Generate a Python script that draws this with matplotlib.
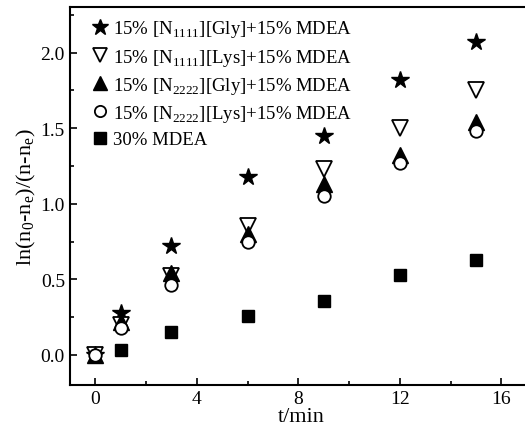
import numpy as np
import matplotlib.pyplot as plt
from matplotlib.ticker import MultipleLocator

plt.rcParams['font.family'] = ['Liberation Serif', 'DejaVu Serif']
plt.rcParams['mathtext.fontset'] = 'custom'
plt.rcParams['mathtext.rm'] = 'Liberation Serif'

t = [0, 1, 3, 6, 9, 12, 15]
n1111_gly = [0, 0.28, 0.72, 1.18, 1.45, 1.82, 2.07]
n1111_lys = [0, 0.20, 0.52, 0.85, 1.23, 1.50, 1.75]
n2222_gly = [0, 0.22, 0.54, 0.80, 1.13, 1.32, 1.54]
n2222_lys = [0, 0.18, 0.46, 0.75, 1.05, 1.27, 1.48]
t_mdea = [1, 3, 6, 9, 12, 15]
mdea = [0.03, 0.15, 0.26, 0.36, 0.53, 0.63]

labels = [r"15% [N$_{\rm 1111}$][Gly]+15% MDEA",
          r"15% [N$_{\rm 1111}$][Lys]+15% MDEA",
          r"15% [N$_{\rm 2222}$][Gly]+15% MDEA",
          r"15% [N$_{\rm 2222}$][Lys]+15% MDEA",
          "30% MDEA"]

fig = plt.figure(figsize=(5.25, 4.31), dpi=100)
ax = fig.add_axes([0.133, 0.104, 0.88, 0.877])

ax.plot(t, n1111_gly, ls='none', marker='*', ms=13, color='k', label=labels[0])
ax.plot(t, n1111_lys, ls='none', marker='v', ms=11, mfc='white', mec='k', mew=1.3, label=labels[1])
ax.plot(t, n2222_gly, ls='none', marker='^', ms=11, color='k', label=labels[2])
ax.plot(t, n2222_lys, ls='none', marker='o', ms=9, mfc='white', mec='k', mew=1.3, label=labels[3])
ax.plot(t_mdea, mdea, ls='none', marker='s', ms=9, color='k', label=labels[4])

ax.set_xlim(-1, 17.2)
ax.set_ylim(-0.2, 2.3)
ax.xaxis.set_major_locator(MultipleLocator(4))
ax.xaxis.set_minor_locator(MultipleLocator(2))
ax.yaxis.set_major_locator(MultipleLocator(0.5))
ax.yaxis.set_minor_locator(MultipleLocator(0.25))
ax.xaxis.set_major_formatter(plt.FuncFormatter(lambda v, p: f"{v:.0f}"))
ax.tick_params(which='both', direction='in', labelsize=14, width=1.2)
ax.tick_params(which='major', length=5)
ax.tick_params(which='minor', length=3)
ax.spines['right'].set_visible(False)
for s in ax.spines.values():
    s.set_linewidth(1.5)

ax.set_xlabel("t/min", fontsize=16, labelpad=0)
ax.set_ylabel(r"ln(n$_{\rm 0}$-n$_{\rm e}$)/(n-n$_{\rm e}$)", fontsize=16, labelpad=2)

ax.legend(loc='upper left', frameon=False, fontsize=13.5, handletextpad=0.05,
          handlelength=1.3, labelspacing=0.38, borderaxespad=0.2,
          bbox_to_anchor=(0.015, 1.0), markerscale=0.9)

fig.savefig("out.png", dpi=100)
